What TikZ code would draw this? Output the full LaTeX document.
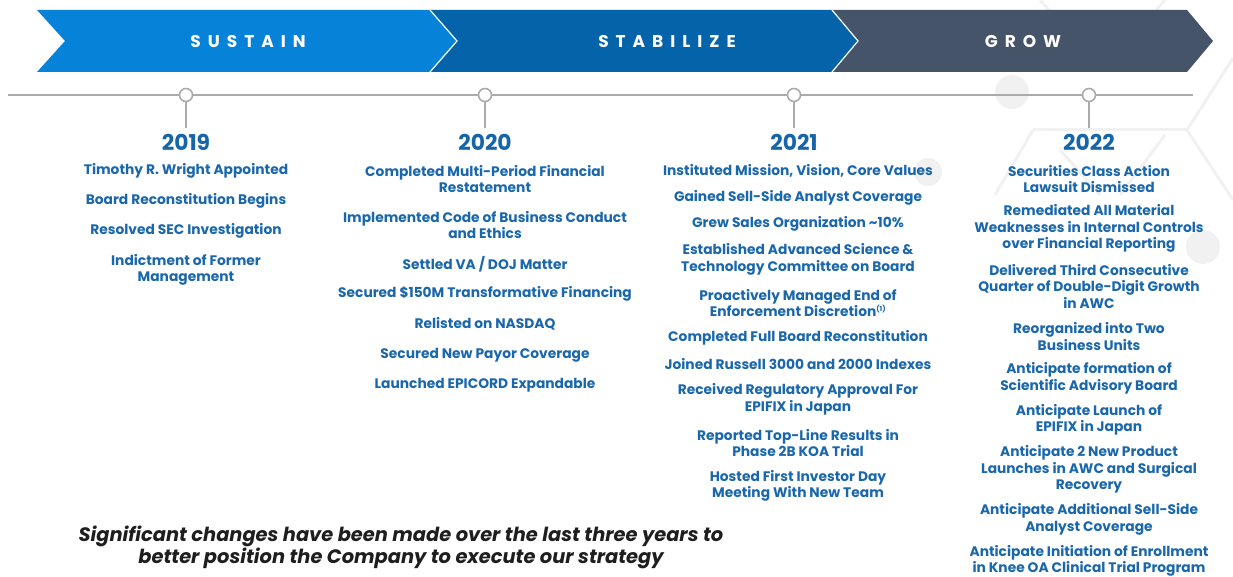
\documentclass[tikz,border=0pt]{standalone}
\usepackage{fontspec}
\setmainfont{Poppins}
\definecolor{sustain}{HTML}{0683D8}
\definecolor{stabil}{HTML}{0563A9}
\definecolor{growc}{HTML}{46546A}
\definecolor{itemblue}{HTML}{1A67AB}
\definecolor{yearblue}{HTML}{1565A8}
\definecolor{tlgrey}{HTML}{ABABAB}
\definecolor{decor}{HTML}{F1F1F1}
\definecolor{captxt}{HTML}{1E1E1E}
\begin{document}
\begin{tikzpicture}[x=1pt,y=-1pt,
  chev/.style={draw=white,line width=1.2pt},
  phase/.style={text=white,font=\fontsize{17}{17}\selectfont\bfseries\addfontfeature{LetterSpace=41}},
  tline/.style={draw=tlgrey,line width=2.2pt},
  dot/.style={circle,draw=tlgrey,fill=white,line width=1.6pt,minimum size=13pt,inner sep=0pt},
  year/.style={text=yearblue,font=\fontsize{21.8}{21.8}\selectfont\bfseries},
  item/.style={text=itemblue,align=center,inner sep=0pt,font=\fontsize{13.8}{16.5}\selectfont\bfseries},
  caption/.style={text=captxt,align=center,inner sep=0pt,font=\fontsize{19.4}{22}\selectfont\bfseries\itshape},
  deco/.style={draw=decor,line width=3pt},
  decodot/.style={fill=decor}]
\useasboundingbox (0,0) rectangle (1233,577);
\fill[white] (0,0) rectangle (1233,577);
% faint molecule background
\draw[deco] (1033,130) -- (1187,130);
\draw[deco] (1187,130) -- (1233,58);
\draw[deco] (1187,130) -- (1233,200);
\draw[deco] (1033,130) -- (995,195);
\draw[deco] (1040,0) -- (1075,40);
\draw[deco] (1165,0) -- (1130,40);
\draw[deco] (1120,195) -- (1165,135);
\draw[deco] (1060,150) -- (1100,195);
\fill[decodot] (1012,92) circle (17);
\fill[decodot] (928,172) circle (14);
\fill[decodot] (1203,247) circle (17);
% chevrons
\fill[sustain] (37,10) -- (430,10) -- (457,41) -- (430,72) -- (37,72) -- (65,41) -- cycle;
\fill[stabil] (430,10) -- (832,10) -- (858,41) -- (832,72) -- (430,72) -- (457,41) -- cycle;
\fill[growc] (832,10) -- (1187,10) -- (1213,41) -- (1187,72) -- (832,72) -- (858,41) -- cycle;
\draw[chev] (430,10) -- (457,41) -- (430,72);
\draw[chev] (832,10) -- (858,41) -- (832,72);
\node[phase] (p1) at (248,42) {SUSTAIN};
\node[phase] (p2) at (667,42) {STABILIZE};
\node[phase] (p3) at (1023,42) {GROW};
% timeline
\coordinate (tl) at (8,95);
\coordinate (tr) at (1193,95);
\draw[tline] (tl) -- (tr);
\coordinate (s19) at (186,128);
\coordinate (s20) at (485,128);
\coordinate (s21) at (794,128);
\coordinate (s22) at (1089,128);
\node[dot] (d19) at (186,95) {};
\node[dot] (d20) at (485,95) {};
\node[dot] (d21) at (794,95) {};
\node[dot] (d22) at (1089,95) {};
\draw[tline] (d19.south) -- (s19);
\draw[tline] (d20.south) -- (s20);
\draw[tline] (d21.south) -- (s21);
\draw[tline] (d22.south) -- (s22);
% years
\node[year] (y19) at (186,142) {2019};
\node[year] (y20) at (485,142) {2020};
\node[year] (y21) at (794,142) {2021};
\node[year] (y22) at (1089,142) {2022};
% 2019
\node[item] (a1) at (186,171) {Timothy R. Wright Appointed};
\node[item] (a2) at (186,201) {Board Reconstitution Begins};
\node[item] (a3) at (186,231) {Resolved SEC Investigation};
\node[item] (a4) at (186,270) {Indictment of Former\\Management};
% 2020
\node[item] (b1) at (485,179) {Completed Multi-Period Financial\\Restatement};
\node[item] (b2) at (485,225) {Implemented Code of Business Conduct\\and Ethics};
\node[item] (b3) at (485,264) {Settled VA / DOJ Matter};
\node[item] (b4) at (485,294) {Secured \$150M Transformative Financing};
\node[item] (b5) at (485,324) {Relisted on NASDAQ};
\node[item] (b6) at (485,355) {Secured New Payor Coverage};
\node[item] (b7) at (485,385) {Launched EPICORD Expandable};
% 2021
\node[item] (c1) at (798,171) {Instituted Mission, Vision, Core Values};
\node[item] (c2) at (798,198) {Gained Sell-Side Analyst Coverage};
\node[item] (c3) at (798,224) {Grew Sales Organization \textasciitilde10\%};
\node[item] (c4) at (798,259.5) {Established Advanced Science \&\\Technology Committee on Board};
\node[item] (c5) at (798,303) {Proactively Managed End of\\Enforcement Discretion\textsuperscript{\fontsize{7}{7}\selectfont(1)}};
\node[item] (c6) at (798,338) {Completed Full Board Reconstitution};
\node[item] (c7) at (798,364) {Joined Russell 3000 and 2000 Indexes};
\node[item] (c8) at (798,399.5) {Received Regulatory Approval For\\EPIFIX in Japan};
\node[item] (c9) at (798,443) {Reported Top-Line Results in\\Phase 2B KOA Trial};
\node[item] (c10) at (798,486) {Hosted First Investor Day\\Meeting With New Team};
% 2022
\node[item] (e1) at (1089,179) {Securities Class Action\\Lawsuit Dismissed};
\node[item] (e2) at (1089,228.5) {Remediated All Material\\Weaknesses in Internal Controls\\over Financial Reporting};
\node[item] (e3) at (1089,286.5) {Delivered Third Consecutive\\Quarter of Double-Digit Growth\\in AWC};
\node[item] (e4) at (1089,336.5) {Reorganized into Two\\Business Units};
\node[item] (e5) at (1089,378.5) {Anticipate formation of\\Scientific Advisory Board};
\node[item] (e6) at (1089,420) {Anticipate Launch of\\EPIFIX in Japan};
\node[item] (e7) at (1089,469.5) {Anticipate 2 New Product\\Launches in AWC and Surgical\\Recovery};
\node[item] (e8) at (1089,519.5) {Anticipate Additional Sell-Side\\Analyst Coverage};
\node[item] (e9) at (1089,561) {Anticipate Initiation of Enrollment\\in Knee OA Clinical Trial Program};
% caption
\node[caption] (cap) at (401,547) {Significant changes have been made over the last three years to\\better position the Company to execute our strategy};
\end{tikzpicture}
\end{document}
